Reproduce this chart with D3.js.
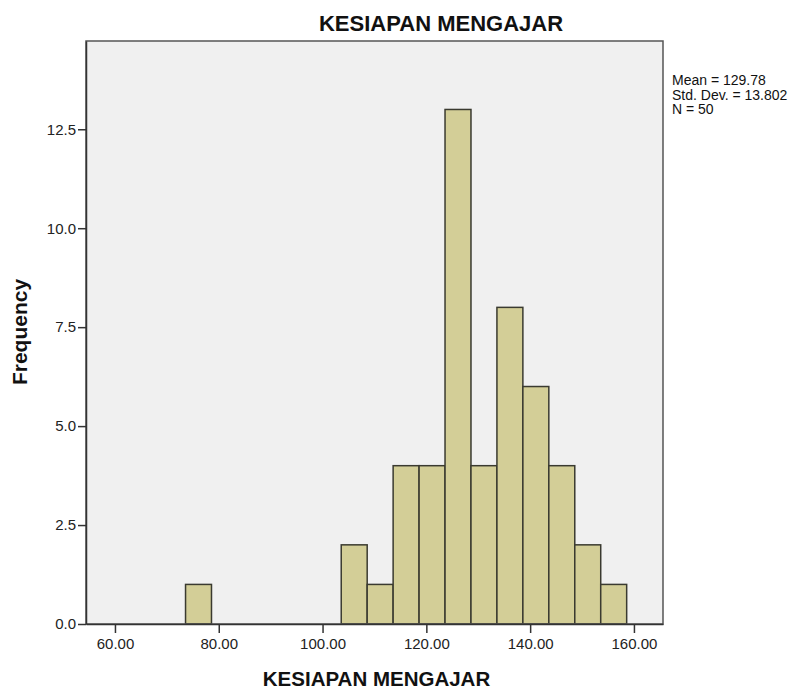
<!DOCTYPE html>
<html>
<head>
<meta charset="utf-8">
<script src="https://cdn.jsdelivr.net/npm/d3@7"></script>
<style>
  html, body { margin: 0; padding: 0; background: #ffffff; }
  svg { display: block; }
</style>
</head>
<body>
<script>
// Histogram of KESIAPAN MENGAJAR scores (bin width 5)
const binLower = [73.6, 103.6, 108.6, 113.6, 118.6, 123.6, 128.6, 133.6, 138.6, 143.6, 148.6, 153.6];
const binWidth = 5;
const counts   = [1, 2, 1, 4, 4, 13, 4, 8, 6, 4, 2, 1];
const xTicks = [60, 80, 100, 120, 140, 160];
const yTicks = [0, 2.5, 5, 7.5, 10, 12.5];
const statsLines = ["Mean = 129.78", "Std. Dev. = 13.802", "N = 50"];
const chartTitle = "KESIAPAN MENGAJAR";
const xTitle = "KESIAPAN MENGAJAR";
const yTitle = "Frequency";

const W = 801, H = 689;
const plot = { left: 86, right: 663, top: 41, bottom: 624 };

const svg = d3.select("body").append("svg")
  .attr("width", W).attr("height", H)
  .style("font-family", "Arial, 'Liberation Sans', sans-serif");

const x = d3.scaleLinear().domain([54.42, 165.6]).range([plot.left, plot.right]);
const y = d3.scaleLinear().domain([0, 14.73]).range([plot.bottom, plot.top]);

// plot background
svg.append("rect")
  .attr("x", plot.left).attr("y", plot.top)
  .attr("width", plot.right - plot.left).attr("height", plot.bottom - plot.top)
  .attr("fill", "#f0f0f0");

// bars
const bins = binLower.map((lo, i) => ({ lo, hi: lo + binWidth, n: counts[i] }));
svg.append("g").selectAll("rect").data(bins).join("rect")
  .attr("x", d => x(d.lo))
  .attr("y", d => y(d.n))
  .attr("width", d => x(d.hi) - x(d.lo))
  .attr("height", d => y(0) - y(d.n))
  .attr("fill", "#d3ce97")
  .attr("stroke", "#3a3a30")
  .attr("stroke-width", 1.5);

// frame
svg.append("rect")
  .attr("x", plot.left).attr("y", plot.top)
  .attr("width", plot.right - plot.left).attr("height", plot.bottom - plot.top)
  .attr("fill", "none").attr("stroke", "#555555").attr("stroke-width", 1.5);

// axes
const xAxis = d3.axisBottom(x).tickValues(xTicks).tickFormat(d3.format(".2f"))
  .tickSize(9).tickSizeOuter(0).tickPadding(5);
const gx = svg.append("g").attr("transform", `translate(0,${plot.bottom})`).call(xAxis);
gx.select(".domain").attr("stroke", "#333").attr("stroke-width", 1.5);
gx.selectAll(".tick line").attr("stroke", "#333").attr("stroke-width", 1.5);
gx.selectAll(".tick text").attr("fill", "#222").style("font-size", "15px")
  .style("font-family", "Arial, 'Liberation Sans', sans-serif");

const yAxis = d3.axisLeft(y).tickValues(yTicks).tickFormat(d3.format(".1f"))
  .tickSize(8).tickSizeOuter(0).tickPadding(2);
const gy = svg.append("g").attr("transform", `translate(${plot.left},0)`).call(yAxis);
gy.select(".domain").attr("stroke", "#333").attr("stroke-width", 1.5);
gy.selectAll(".tick line").attr("stroke", "#333").attr("stroke-width", 1.5);
gy.selectAll(".tick text").attr("fill", "#222").style("font-size", "15px")
  .style("font-family", "Arial, 'Liberation Sans', sans-serif");

// titles
svg.append("text")
  .attr("x", 441).attr("y", 31)
  .attr("text-anchor", "middle")
  .style("font-size", "22px").style("font-weight", "bold").attr("fill", "#111")
  .text(chartTitle);

svg.append("text")
  .attr("x", (plot.left + plot.right) / 2 + 2).attr("y", 686)
  .attr("text-anchor", "middle")
  .style("font-size", "20.5px").style("font-weight", "bold").attr("fill", "#111")
  .text(xTitle);

svg.append("text")
  .attr("transform", `translate(27,332) rotate(-90)`)
  .attr("text-anchor", "middle")
  .style("font-size", "21px").style("font-weight", "bold").attr("fill", "#111")
  .text(yTitle);

// summary statistics
svg.append("g").selectAll("text").data(statsLines).join("text")
  .attr("x", 672)
  .attr("y", (d, i) => 85 + i * 14.5)
  .style("font-size", "14px").attr("fill", "#111")
  .text(d => d);
</script>
</body>
</html>
